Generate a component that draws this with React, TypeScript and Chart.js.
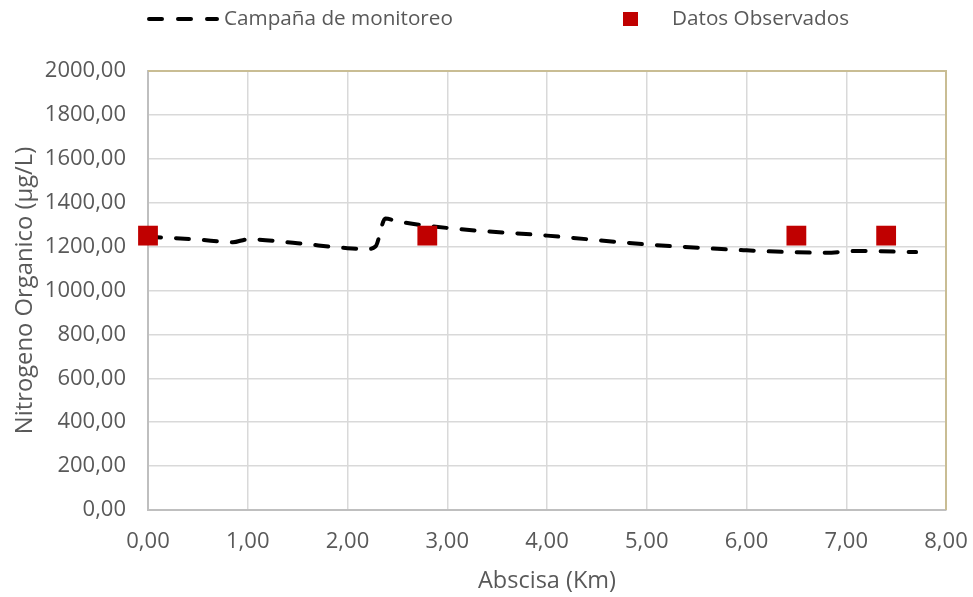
import React, { useEffect, useRef } from "react";
import { Chart, registerables } from "chart.js";

Chart.register(...registerables);

const lineX = [0, 0.5, 0.85, 1.0, 1.5, 2.0, 2.2, 2.28, 2.38, 2.5, 3.0, 4.0, 5.0, 6.0, 6.5, 6.8, 7.1, 7.7];
const lineY = [1245, 1232, 1220, 1233, 1215, 1193, 1189, 1200, 1328, 1315, 1285, 1250, 1210, 1183, 1174, 1172, 1180, 1175];
const obsX = [0, 2.8, 6.5, 7.4];
const obsY = [1250, 1250, 1250, 1250];
const seriesNames = ["Campaña de monitoreo", "Datos Observados"];
const xTitle = "Abscisa (Km)";
const yTitle = "Nitrogeno Organico (µg/L)";

const FONT = "Open Sans";
const TXT = "#595959";
const fmt = (v: number) => v.toFixed(2).replace(".", ",");

const framePlugin = {
  id: "frame",
  beforeDatasetsDraw(chart: any) {
    const { ctx, chartArea } = chart;
    ctx.save();
    ctx.strokeStyle = "#c9bd94";
    ctx.lineWidth = 2;
    ctx.beginPath();
    ctx.moveTo(chartArea.left, chartArea.top);
    ctx.lineTo(chartArea.right, chartArea.top);
    ctx.lineTo(chartArea.right, chartArea.bottom);
    ctx.stroke();
    ctx.restore();
  },
};

const legendPlugin = {
  id: "customLegend",
  afterDraw(chart: any) {
    const { ctx } = chart;
    const y = 19;
    ctx.save();
    ctx.strokeStyle = "#000";
    ctx.lineWidth = 4;
    ctx.lineCap = "round";
    ctx.setLineDash([13, 16]);
    ctx.beginPath();
    ctx.moveTo(149, y);
    ctx.lineTo(217, y);
    ctx.stroke();
    ctx.setLineDash([]);
    ctx.fillStyle = "#c00000";
    ctx.fillRect(623, y - 7, 15, 14);
    ctx.fillStyle = TXT;
    ctx.font = `20.7px "${FONT}"`;
    ctx.textBaseline = "middle";
    ctx.textAlign = "left";
    ctx.fillText(seriesNames[0], 224, y);
    ctx.fillText(seriesNames[1], 672, y);
    ctx.restore();
  },
};

export default function App() {
  const ref = useRef<HTMLCanvasElement>(null);
  useEffect(() => {
    document.body.style.margin = "0";
    const chart = new Chart(ref.current as HTMLCanvasElement, {
      type: "scatter",
      data: {
        datasets: [
          {
            label: seriesNames[0],
            data: lineX.map((x, i) => ({ x, y: lineY[i] })),
            showLine: true,
            borderColor: "#000",
            borderWidth: 4,
            borderDash: [13, 15],
            borderCapStyle: "round",
            cubicInterpolationMode: "monotone",
            pointRadius: 0,
            order: 2,
          },
          {
            label: seriesNames[1],
            data: obsX.map((x, i) => ({ x, y: obsY[i] })),
            pointStyle: "rect",
            pointRadius: 14,
            pointHoverRadius: 14,
            backgroundColor: "#c00000",
            borderColor: "#c00000",
            borderWidth: 0,
            clip: false,
            order: 1,
          },
        ],
      },
      options: {
        animation: false,
        responsive: false,
        layout: { padding: { top: 71, right: 27, left: 0, bottom: 0 } },
        plugins: { legend: { display: false }, tooltip: { enabled: false } },
        scales: {
          x: {
            type: "linear",
            min: 0,
            max: 8,
            ticks: { stepSize: 1, callback: (v: any) => fmt(Number(v)), color: TXT, font: { family: FONT, size: 22 }, padding: 19, maxRotation: 0 },
            grid: { color: "#d9d9d9", lineWidth: 1.5, drawTicks: false },
            border: { color: "#bfbfbf", width: 2 },
            title: { display: true, text: xTitle, color: TXT, font: { family: FONT, size: 23.5 }, padding: { top: 0, bottom: 2 } },
            afterFit: (s: any) => { s.height = 87; s.paddingRight = 0; s.paddingLeft = 0; },
          },
          y: {
            type: "linear",
            min: 0,
            max: 2000,
            ticks: { stepSize: 200, callback: (v: any) => fmt(Number(v)), color: TXT, font: { family: FONT, size: 22 }, padding: 22 },
            grid: { color: "#d9d9d9", lineWidth: 1.5, drawTicks: false },
            border: { color: "#bfbfbf", width: 2 },
            title: { display: true, text: yTitle, color: TXT, font: { family: FONT, size: 23.8 }, padding: { top: 11, bottom: 0 } },
            afterFit: (s: any) => { s.width = 148; s.paddingTop = 0; s.paddingBottom = 0; },
          },
        },
      } as any,
      plugins: [framePlugin, legendPlugin],
    });
    return () => chart.destroy();
  }, []);
  return <canvas ref={ref} width={973} height={597} style={{ display: "block" }} />;
}
